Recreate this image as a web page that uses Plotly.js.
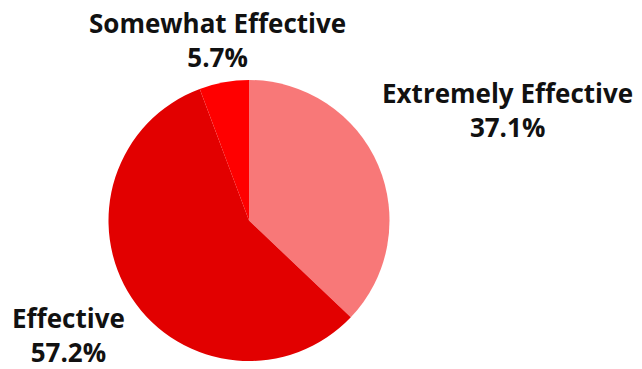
<!DOCTYPE html>
<html><head><meta charset="utf-8">
<script src="https://cdn.plot.ly/plotly-3.0.1.min.js"></script>
<style>html,body{margin:0;padding:0;background:#fff}</style>
</head><body>
<div id="chart" style="width:642px;height:369px"></div>
<script>
const categories = ["Extremely Effective", "Effective", "Somewhat Effective"];
const values = [37.1, 57.2, 5.7];
const colors = ["#F87878", "#E20000", "#FF0000"];
// label centre positions in pixels: [x, y]
const labelPos = [[507, 110], [68, 335], [217, 40]];

const W = 642, H = 369;
const font = {family: "'Open Sans', sans-serif", size: 26, color: "#111", weight: 700};
const annotations = categories.map((c, i) => ({
  xref: "paper", yref: "paper",
  x: labelPos[i][0] / W, y: 1 - labelPos[i][1] / H,
  xanchor: "center", yanchor: "middle", align: "center",
  text: "<b>" + c + "</b><br><b>" + values[i].toFixed(1) + "%</b>",
  showarrow: false, font: font
}));

Plotly.newPlot("chart", [{
  type: "pie",
  labels: categories,
  values: values,
  sort: false,
  direction: "clockwise",
  rotation: 0,
  textinfo: "none",
  hoverinfo: "label+percent",
  marker: {colors: colors, line: {width: 0}},
  domain: {x: [108/W, 390/W], y: [1 - 361/H, 1 - 80/H]}
}], {
  width: W, height: H,
  margin: {l: 0, r: 0, t: 0, b: 0},
  showlegend: false,
  paper_bgcolor: "#fff",
  annotations: annotations
}, {displayModeBar: false, staticPlot: true});
</script>
</body></html>
